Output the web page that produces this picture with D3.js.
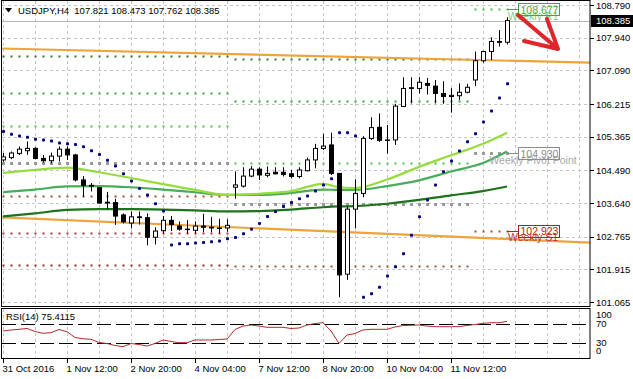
<!DOCTYPE html>
<html>
<head>
<meta charset="utf-8">
<script src="https://cdnjs.cloudflare.com/ajax/libs/d3/7.8.5/d3.min.js"></script>
<style>
body{margin:0;background:#fff}
text{font-family:"Liberation Sans",Arial,sans-serif;font-size:9.5px}
</style>
</head>
<body>
<svg width="633" height="379"></svg>
<script>
// USDJPY H4, one value per bar (bar 0 = 31 Oct 2016 04:00)
var opens  = [104.76,104.82,104.93,105.00,105.06,104.80,104.74,104.86,
              105.04,104.89,104.24,104.10,104.04,103.64,103.65,103.33,
              103.12,103.28,103.26,102.75,102.92,103.19,103.04,102.96,
              102.93,103.04,103.01,102.99,102.99,104.05,104.08,104.34,
              104.52,104.36,104.44,104.44,104.40,104.33,104.48,104.76,
              105.06,105.15,104.41,101.79,103.48,103.89,105.32,105.61,
              105.27,105.28,106.15,106.62,106.62,106.75,106.68,106.49,
              106.41,106.43,106.52,106.84,107.34,107.58,107.84,107.821];
var highs  = [104.94,104.98,105.11,105.24,105.09,104.89,104.95,105.11,
              105.11,104.92,104.34,104.16,104.05,103.93,103.75,103.37,
              103.42,103.42,103.37,103.01,103.30,103.30,103.16,103.20,
              103.16,103.36,103.28,103.23,103.22,104.46,104.57,104.60,
              104.57,104.59,104.57,104.57,104.50,104.57,104.82,105.18,
              105.44,105.47,104.41,103.55,104.26,105.38,105.87,105.97,
              105.67,106.22,106.91,106.91,106.91,106.89,106.84,106.81,
              106.63,106.75,106.74,107.58,107.60,107.95,108.14,108.473];
var lows   = [104.71,104.78,104.89,104.89,104.78,104.69,104.67,104.72,
              104.76,104.20,103.80,103.94,103.62,103.49,103.07,103.11,
              102.98,103.08,102.54,102.56,102.85,102.91,102.92,102.85,
              102.85,102.88,102.88,102.86,102.89,103.75,104.04,104.31,
              104.24,104.31,104.38,104.33,104.28,104.28,104.46,104.54,
              105.02,104.37,101.19,101.64,102.98,103.79,105.28,105.23,
              104.92,105.15,106.15,106.23,106.49,106.46,106.23,106.22,
              105.99,106.32,106.49,106.68,107.29,107.36,107.71,107.762];
var closes = [104.84,104.94,105.04,105.06,104.80,104.74,104.86,105.04,
              104.89,104.24,104.10,104.08,103.64,103.66,103.30,103.15,
              103.28,103.26,102.75,102.91,103.19,103.08,102.96,102.95,
              103.04,103.01,102.99,102.99,103.06,104.11,104.34,104.52,
              104.37,104.41,104.40,104.38,104.33,104.50,104.76,105.06,
              105.12,104.41,101.77,103.48,103.89,105.32,105.60,105.27,
              105.28,106.16,106.62,106.64,106.78,106.70,106.49,106.41,
              106.44,106.52,106.65,107.34,107.58,107.84,107.82,108.385];

// parabolic SAR, one per bar
var sar = [105.50,105.43,105.38,105.35,105.30,105.28,105.25,105.20,
           105.18,105.16,105.10,105.00,104.90,104.75,104.60,104.40,
           104.21,104.02,103.85,103.62,103.43,102.55,102.58,102.58,
           102.60,102.61,102.63,102.65,102.71,102.74,102.84,102.96,
           103.11,103.29,103.42,103.55,103.65,103.75,103.82,103.95,
           104.11,104.27,105.47,105.47,105.38,101.19,101.28,101.45,
           101.74,101.98,102.32,102.80,103.28,103.72,104.11,104.45,
           104.73,104.99,105.23,105.44,105.75,106.03,106.37,106.74];

// RSI(14), one per bar
var rsi = [55.5,57.6,59.0,60.7,54.5,50.7,52.0,58.6,
           54.0,42.0,39.3,38.3,31.7,29.6,25.5,23.0,
           29.6,27.5,24.4,29.6,36.9,33.7,31.3,31.3,
           36.9,36.9,36.9,37.9,38.9,58.6,65.8,67.9,
           65.8,63.1,63.1,63.1,60.7,61.7,67.9,71.0,
           72.7,55.5,30.0,47.2,50.3,57.6,59.0,59.0,
           59.0,63.8,66.9,67.3,67.9,65.8,64.4,64.4,
           64.4,64.4,66.9,68.9,71.4,72.7,72.7,75.4115];

// moving averages read at these bars
var maBars = [0,4,8,12,16,20,24,28,32,36,40,42,44,48,52,56,60,63];
var maFast = [104.42,104.50,104.56,104.44,104.29,104.13,103.98,103.85,103.88,103.95,
              104.14,104.05,104.03,104.25,104.58,104.88,105.18,105.47];
var maMid  = [103.92,103.99,104.07,104.08,104.05,103.99,103.92,103.85,103.85,103.90,
              103.99,103.98,103.98,104.08,104.23,104.46,104.68,104.98];
var maSlow = [103.29,103.37,103.46,103.48,103.48,103.47,103.45,103.42,103.43,103.47,
              103.53,103.55,103.56,103.62,103.72,103.84,103.95,104.07];

// hand drawn trend lines (bar, price)
var trendBars = [-0.375, 73.375];
var trendUpper = [107.66, 107.29];
var trendLower = [103.27, 102.61];

// weekly pivots: R3 R2 R1 P S1 S2 S3
var weekFirstBar = [-1, 29, 59];
var weekLastBar = [28, 58, 63];
var weekLevels = [
  [107.46, 106.49, 105.63, 104.67, 103.83, 102.87, 102.02],
  [107.38, 106.29, 104.69, 103.61, 102.00, null, null],
  [null, null, 108.677, 104.930, 102.923, null, null]
];
var levelNames = ["Weekly R3","Weekly R2","Weekly R1","Weekly Pivot Point","Weekly S1","Weekly S2","Weekly S3"];

// red arrow annotation (bar, price): shaft then the two wings
var arrowBars = [64.375, 69.375, 68.0, 65.125];
var arrowPrices = [108.53, 107.646, 108.426, 107.854];

var priceTicks = [108.790,107.940,107.090,106.215,105.365,104.490,103.640,102.765,101.915,101.065];
var timeBars = [0,8,16,24,32,40,48,56];
var timeLabels = ["31 Oct 2016","1 Nov 12:00","2 Nov 20:00","4 Nov 04:00","7 Nov 12:00","8 Nov 20:00","10 Nov 04:00","11 Nov 12:00"];
var rsiTicks = [100,70,30,0];

var levelColors = ["#2f7a2f","#3d9e3d","#4cbf4c","#9a9a9a","#a0522d","#c03030","#8b2e2e"];

var svg = d3.select("svg"),
  width = +svg.attr("width"),
  height = +svg.attr("height");

var plotRight = 590;
var mainTop = 0.5, mainBottom = 306.5, rsiTop = 308.5, rsiBottom = 358.5;

var x = d3.scaleLinear().domain([0, 73.375]).range([3, plotRight]);
var y = d3.scaleLinear().domain([101.065, 108.790]).range([302, 5]);
var yr = d3.scaleLinear().domain([0, 100]).range([357.8, 309.5]);

svg.append("rect").attr("width", width).attr("height", height).attr("fill", "#fff");

var defs = svg.append("defs");
defs.append("clipPath").attr("id", "clipMain")
  .append("rect").attr("x", 2).attr("y", 1).attr("width", plotRight - 2).attr("height", 305);
defs.append("clipPath").attr("id", "clipRsi")
  .append("rect").attr("x", 2).attr("y", 309).attr("width", plotRight - 2).attr("height", 49);

// grid
var grid = svg.append("g").attr("stroke", "#c4c4c4").attr("stroke-dasharray", "3,3");
d3.range(0, 73, 4).forEach(function(b) {
  var gx = Math.round(x(b)) + 0.5;
  grid.append("line").attr("x1", gx).attr("x2", gx).attr("y1", 1).attr("y2", 306);
  grid.append("line").attr("x1", gx).attr("x2", gx).attr("y1", 309).attr("y2", 358);
});
priceTicks.forEach(function(p) {
  var gy = Math.round(y(p)) + 0.5;
  grid.append("line").attr("x1", 2).attr("x2", plotRight).attr("y1", gy).attr("y2", gy);
});

var main = svg.append("g").attr("clip-path", "url(#clipMain)");

// bid line
var bidY = Math.round(y(closes[63])) + 0.5;
main.append("line").attr("x1", 2).attr("x2", plotRight).attr("y1", bidY).attr("y2", bidY)
  .attr("stroke", "#b8b8b8");

// pivot dots, one per bar
weekLevels.forEach(function(levels, w) {
  levels.forEach(function(v, l) {
    if (v === null) return;
    var big = (l === 3);
    d3.range(weekFirstBar[w], weekLastBar[w] + 1).forEach(function(b) {
      main.append("rect")
        .attr("x", Math.round(x(b)) - (big ? 1 : 0.5))
        .attr("y", Math.round(y(v)) - (big ? 1 : 0.5))
        .attr("width", big ? 3 : 2)
        .attr("height", big ? 3 : 2)
        .attr("fill", levelColors[l]);
    });
  });
});

// trend lines
[trendUpper, trendLower].forEach(function(t) {
  main.append("line")
    .attr("x1", x(trendBars[0])).attr("y1", y(t[0]))
    .attr("x2", x(trendBars[1])).attr("y2", y(t[1]))
    .attr("stroke", "#eea43a").attr("stroke-width", 2.2);
});

// moving averages
var maLine = d3.line()
  .x(function(d) { return x(d[0]); })
  .y(function(d) { return y(d[1]); })
  .curve(d3.curveMonotoneX);
[[maSlow, "#1c731c"], [maMid, "#47ad5a"], [maFast, "#97dc3e"]].forEach(function(m) {
  main.append("path")
    .attr("d", maLine(maBars.map(function(b, i) { return [b, m[0][i]]; })))
    .attr("fill", "none").attr("stroke", m[1]).attr("stroke-width", 2.2);
});

// candles
var candle = main.append("g").selectAll("g")
  .data(d3.range(opens.length))
  .enter().append("g");
candle.append("line")
  .attr("x1", function(i) { return Math.round(x(i)) + 0.5; })
  .attr("x2", function(i) { return Math.round(x(i)) + 0.5; })
  .attr("y1", function(i) { return y(highs[i]); })
  .attr("y2", function(i) { return y(lows[i]); })
  .attr("stroke", "#000");
candle.append("rect")
  .attr("x", function(i) { return Math.round(x(i)) - 1.5; })
  .attr("y", function(i) { return y(Math.max(opens[i], closes[i])); })
  .attr("width", 4)
  .attr("height", function(i) { return Math.max(0.5, Math.abs(y(opens[i]) - y(closes[i]))); })
  .attr("fill", function(i) { return closes[i] >= opens[i] ? "#fff" : "#000"; })
  .attr("stroke", "#000");

// parabolic SAR
main.append("g").selectAll("rect")
  .data(sar)
  .enter().append("rect")
  .attr("x", function(d, i) { return Math.round(x(i)) - 1; })
  .attr("y", function(d) { return y(d) - 1.5; })
  .attr("width", 3).attr("height", 3).attr("rx", 0.8)
  .attr("fill", "#0a0a80");

// current week labels
weekLevels[2].forEach(function(v, l) {
  if (v === null) return;
  var ly = y(v);
  var col = l === 2 ? "#3caa3c" : (l === 3 ? "#8c8c8c" : "#b02222");
  var nameCol = l === 2 ? "#7fd07f" : (l === 3 ? "#a8a8a8" : "#c03030");
  main.append("line").attr("x1", x(63)).attr("x2", x(64.375))
    .attr("y1", Math.round(ly) + 0.5).attr("y2", Math.round(ly) + 0.5).attr("stroke", col);
  main.append("text").attr("x", x(66.25)).attr("y", ly + 10.5)
    .attr("text-anchor", "middle").attr("fill", nameCol).style("font-size", "10.5px")
    .text(levelNames[l]);
  main.append("rect").attr("x", Math.round(x(64.375)) + 0.5).attr("y", Math.round(ly) - 5.5)
    .attr("width", 41).attr("height", 12).attr("fill", "none").attr("stroke", col);
  main.append("text").attr("x", x(64.375) + 2.5).attr("y", ly + 4.5)
    .attr("fill", col).style("font-size", "10.5px").text(v.toFixed(3));
});

// red arrow
var ap = arrowBars.map(function(b, i) { return [x(b), y(arrowPrices[i])]; });
main.append("path")
  .attr("d", "M" + ap[0] + "L" + ap[1] + "M" + ap[2] + "L" + ap[1] + "L" + ap[3])
  .attr("fill", "none").attr("stroke", "#e0262a").attr("stroke-width", 4)
  .attr("stroke-linecap", "round").attr("stroke-linejoin", "round");

// RSI panel
var rsiG = svg.append("g").attr("clip-path", "url(#clipRsi)");
[70, 30].forEach(function(lv) {
  var ly = Math.round(yr(lv)) + 0.5;
  rsiG.append("line").attr("x1", 2).attr("x2", plotRight).attr("y1", ly).attr("y2", ly)
    .attr("stroke", "#000").attr("stroke-dasharray", "14,5");
});
rsiG.append("path")
  .attr("d", d3.line().x(function(d, i) { return x(i); }).y(function(d) { return yr(d); })(rsi))
  .attr("fill", "none").attr("stroke", "#b52a2a").attr("stroke-width", 1);

// frames
svg.append("rect").attr("x", 1.5).attr("y", mainTop).attr("width", plotRight - 1.5).attr("height", mainBottom - mainTop)
  .attr("fill", "none").attr("stroke", "#000");
svg.append("rect").attr("x", 1.5).attr("y", rsiTop).attr("width", plotRight - 1.5).attr("height", rsiBottom - rsiTop)
  .attr("fill", "none").attr("stroke", "#000");

// header
svg.append("path").attr("d", "M5,8L12,8L8.5,12.5Z").attr("fill", "#000");
svg.append("text").attr("x", 18).attr("y", 14).style("white-space", "pre").attr("fill", "#000")
  .text("USDJPY,H4  " + opens[63].toFixed(3) + " " + highs[63].toFixed(3) + " " +
        lows[63].toFixed(3) + " " + closes[63].toFixed(3));
svg.append("text").attr("x", 6).attr("y", 320).attr("fill", "#000")
  .text("RSI(14) " + rsi[rsi.length - 1].toFixed(4));

// price axis
var pAxis = svg.append("g");
priceTicks.forEach(function(p) {
  var ty = Math.round(y(p)) + 0.5;
  pAxis.append("line").attr("x1", plotRight).attr("x2", plotRight + 4).attr("y1", ty).attr("y2", ty).attr("stroke", "#000");
  pAxis.append("text").attr("x", 596).attr("y", y(p) + 3.5).attr("fill", "#000").text(p.toFixed(3));
});
pAxis.append("rect").attr("x", 591).attr("y", Math.round(y(closes[63])) - 6).attr("width", 42).attr("height", 12).attr("fill", "#000");
pAxis.append("text").attr("x", 596).attr("y", y(closes[63]) + 3.5).attr("fill", "#fff").text(closes[63].toFixed(3));

// RSI axis
rsiTicks.forEach(function(t, k) {
  var ty = yr(t) + (k === 0 ? 8.5 : (k === 3 ? -3.5 : 3));
  svg.append("text").attr("x", 596).attr("y", ty).attr("fill", "#000").text(t);
});

// time axis
timeBars.forEach(function(b, k) {
  var tx = Math.round(x(b)) + 0.5;
  svg.append("line").attr("x1", tx).attr("x2", tx).attr("y1", 358).attr("y2", 363).attr("stroke", "#000");
  svg.append("text").attr("x", x(b) - 0.5).attr("y", 372).attr("fill", "#000").text(timeLabels[k]);
});
</script>
</body>
</html>
